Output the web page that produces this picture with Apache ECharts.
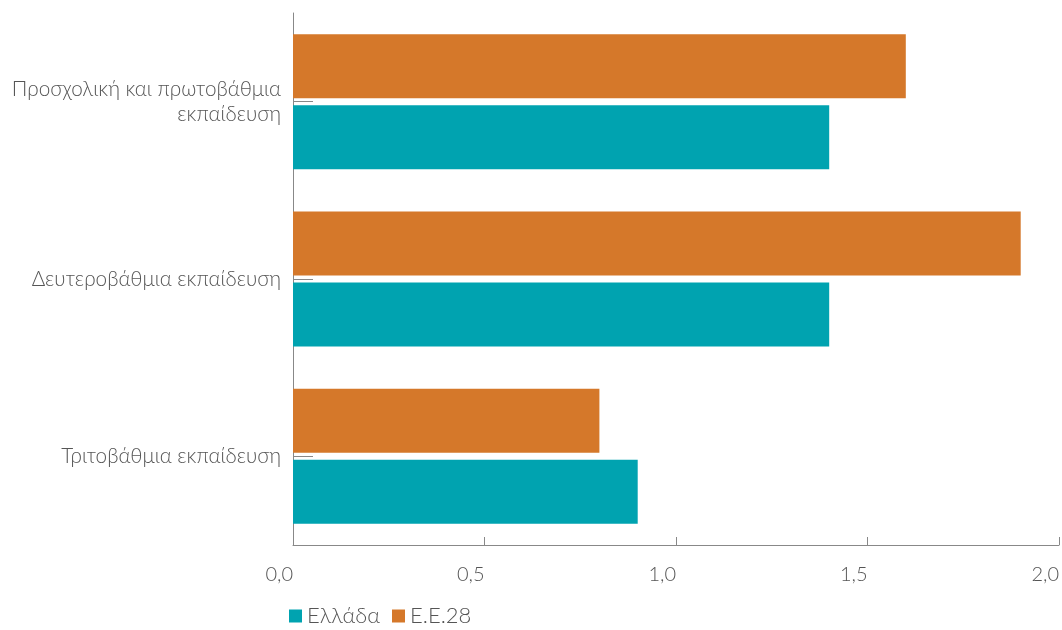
<!DOCTYPE html>
<html><head><meta charset="utf-8">
<script src="https://cdn.jsdelivr.net/npm/echarts@6/dist/echarts.min.js"></script>
<style>html,body{margin:0;padding:0;background:#fff}#c{width:1062px;height:630px}</style>
</head><body><div id="c"></div>
<script>
const categories = ["Προσχολική και πρωτοβάθμια\nεκπαίδευση", "Δευτεροβάθμια εκπαίδευση", "Τριτοβάθμια εκπαίδευση"];
const greece = [1.4, 1.4, 0.9];
const eu28 = [1.6, 1.9, 0.8];
const seriesNames = ["Ελλάδα", "Ε.Ε.28"];
const colors = {"Ελλάδα": "#00A3B0", "Ε.Ε.28": "#D5782A"};
const font = "Lato, 'Noto Sans', sans-serif";
const chart = echarts.init(document.getElementById('c'));
chart.setOption({
  animation: false,
  textStyle: {fontFamily: font},
  grid: {left: 293, right: 3, top: 13, bottom: 85, containLabel: false, outerBoundsMode: 'none'},
  legend: {
    data: seriesNames, left: 284, top: 600, itemWidth: 13, itemHeight: 13, itemGap: 12,
    icon: 'rect', textStyle: {fontSize: 22, color: '#555', fontFamily: font, fontWeight: 300}
  },
  xAxis: {
    type: 'value', min: 0, max: 2, interval: 0.5,
    axisLine: {show: true, lineStyle: {color: '#888'}},
    axisTick: {show: true, inside: true, length: 8, lineStyle: {color: '#888'}},
    splitLine: {show: false},
    axisLabel: {fontSize: 20, color: '#555', margin: 20, align: 'right', fontWeight: 300,
      formatter: v => v.toFixed(1).replace('.', ',')}
  },
  yAxis: {
    type: 'category', data: categories, inverse: true,
    axisLine: {show: true, lineStyle: {color: '#888'}},
    axisTick: {show: true, inside: true, alignWithLabel: true, length: 20, lineStyle: {color: '#888'}},
    axisLabel: {fontSize: 20.7, color: '#555', margin: 12, lineHeight: 25, fontWeight: 300}
  },
  series: [
    {name: "Ε.Ε.28", type: 'bar', data: eu28, itemStyle: {color: colors["Ε.Ε.28"]}, barWidth: 64, barGap: '11%', z: 1},
    {name: "Ελλάδα", type: 'bar', data: greece, itemStyle: {color: colors["Ελλάδα"]}, barWidth: 64, barGap: '11%', z: 1}
  ]
});
</script></body></html>
